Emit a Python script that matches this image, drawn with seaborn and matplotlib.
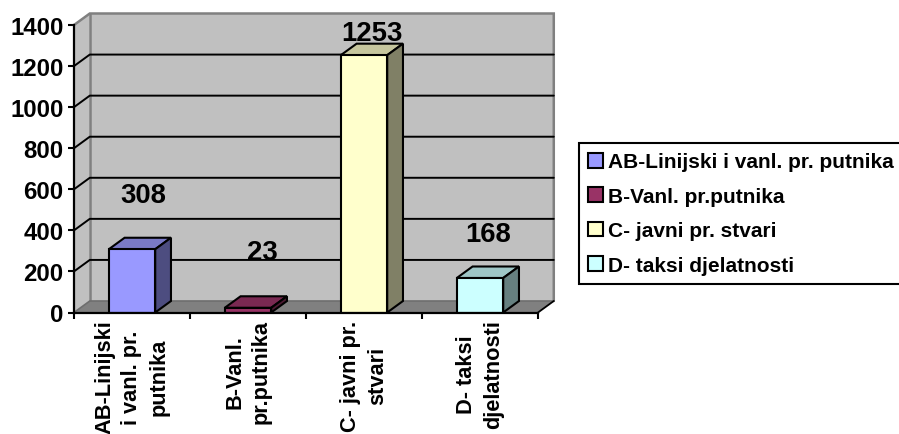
import matplotlib
matplotlib.use("Agg")
import matplotlib.pyplot as plt
from matplotlib.patches import Patch
import seaborn as sns

categories = ["AB-Linijski i vanl. pr. putnika", "B-Vanl. pr.putnika", "C- javni pr. stvari", "D- taksi djelatnosti"]
values = [308, 23, 1253, 168]
tick_labels = ["AB-Linijski\ni vanl. pr.\nputnika", "B-Vanl.\npr.putnika", "C- javni pr.\nstvari", "D- taksi\ndjelatnosti"]
front_colors = ["#9999FF", "#993366", "#FFFFCC", "#CCFFFF"]
top_colors = ["#7A7AC6", "#7A2952", "#C6C69E", "#9EC6C6"]
side_colors = ["#4D4D80", "#4D1A33", "#808066", "#668080"]
y_ticks = [0, 200, 400, 600, 800, 1000, 1200, 1400]

# label anchor heights and depth of the pseudo-3D projection, in data units
label_heights = [570, 297, 1363, 380]
label_shift = [0.095, 0.12, 0.07, 0.07]
DX, DY = 0.136, 56
BAR_W = 0.4
W, H = 899, 435

sns.set_theme(style="white")
plt.rcParams["font.family"] = ["Liberation Sans", "DejaVu Sans"]
plt.rcParams["font.weight"] = "bold"

fig = plt.figure(figsize=(W / 100, H / 100), dpi=100, facecolor="white")
ax = fig.add_axes([74 / W, 1 - 313.5 / H, 464 / W, 287.5 / H])
ax.patch.set_visible(False)

sns.barplot(x=categories, y=values, hue=categories, palette=front_colors, width=BAR_W,
            edgecolor="black", linewidth=1.5, legend=False, ax=ax, zorder=6, saturation=1)

ax.set_xlim(-0.5, 3.5)
ax.set_ylim(0, 1400)
x0, x1, ytop = -0.5, 3.5, 1400

# walls and floor
ax.fill([x0 + DX, x1 + DX, x1 + DX, x0 + DX], [DY, DY, ytop + DY, ytop + DY],
        color="#C0C0C0", zorder=1, clip_on=False, lw=0)
ax.fill([x0, x0 + DX, x0 + DX, x0], [0, DY, ytop + DY, ytop],
        color="#C0C0C0", zorder=1, clip_on=False, lw=0)
ax.fill([x0, x1, x1 + DX, x0 + DX], [0, 0, DY, DY], color="#808080", zorder=2, clip_on=False, lw=0)
ax.plot([x0, x0 + DX, x1 + DX, x1 + DX], [ytop, ytop + DY, ytop + DY, DY], color="#808080", lw=1.8,
        zorder=3, clip_on=False, solid_joinstyle="miter")
ax.plot([x0 + DX, x0 + DX], [DY, ytop + DY], color="#808080", lw=1.8, zorder=3, clip_on=False)
ax.plot([x0, x0 + DX, x1 + DX], [0, DY, DY], color="#6E6E6E", lw=1.2, zorder=3, clip_on=False)
ax.plot([x1, x1 + DX], [0, DY], color="black", lw=1.3, zorder=3, clip_on=False)

# gridlines
for t in y_ticks[1:-1]:
    ax.plot([x0, x0 + DX, x1 + DX], [t, t + DY, t + DY], color="black", lw=1.4, zorder=4, clip_on=False)

# pseudo-3D bar faces and value labels
for i, v in enumerate(values):
    l, r = i - BAR_W / 2, i + BAR_W / 2
    ax.fill([l, r, r + DX, l + DX], [v, v, v + DY, v + DY], facecolor=top_colors[i],
            edgecolor="black", lw=1.5, zorder=5, clip_on=False, joinstyle="miter")
    ax.fill([r, r + DX, r + DX, r], [0, DY, v + DY, v], facecolor=side_colors[i],
            edgecolor="black", lw=1.5, zorder=5, clip_on=False, joinstyle="miter")
    ax.text(i + label_shift[i], label_heights[i], str(v), ha="center", va="center",
            fontsize=19.8, fontweight="bold", color="black", zorder=8)

# axes
for s in ("top", "right"):
    ax.spines[s].set_visible(False)
for s in ("left", "bottom"):
    ax.spines[s].set_linewidth(1.6)
    ax.spines[s].set_color("black")
    ax.spines[s].set_zorder(7)
ax.set_yticks(y_ticks)
ax.set_xticks(range(4), tick_labels, rotation=90, ma="center", linespacing=1.36)
ax.set_xticks([-0.5, 0.5, 1.5, 2.5, 3.5], minor=True)
ax.tick_params(axis="y", which="major", left=True, length=4.5, width=1.5, pad=3, labelsize=17.3, color="black", labelcolor="black")
ax.tick_params(axis="x", which="minor", bottom=True, length=4.5, width=1.5, color="black")
ax.tick_params(axis="x", which="major", bottom=False, length=0, pad=5, labelsize=15.7, labelcolor="black")
ax.grid(False)
ax.set_xlabel("")
ax.set_ylabel("")
for lab in ax.get_xticklabels() + ax.get_yticklabels():
    lab.set_fontweight("bold")

handles = [Patch(facecolor=c, edgecolor="black", linewidth=1.5) for c in front_colors]
leg = fig.legend(handles, categories, loc="upper left", bbox_to_anchor=(579 / W, 1 - 144 / H),
                 bbox_transform=fig.transFigure, borderaxespad=0, fancybox=False, framealpha=1,
                 edgecolor="black", handlelength=0.72, handleheight=0.72,
                 handletextpad=0.2, labelspacing=0.74, borderpad=0.45, labelcolor="black",
                 prop={"family": "Liberation Sans", "weight": "bold", "size": 15})
leg.get_frame().set_linewidth(1.5)

fig.savefig("out.png", dpi=100)
